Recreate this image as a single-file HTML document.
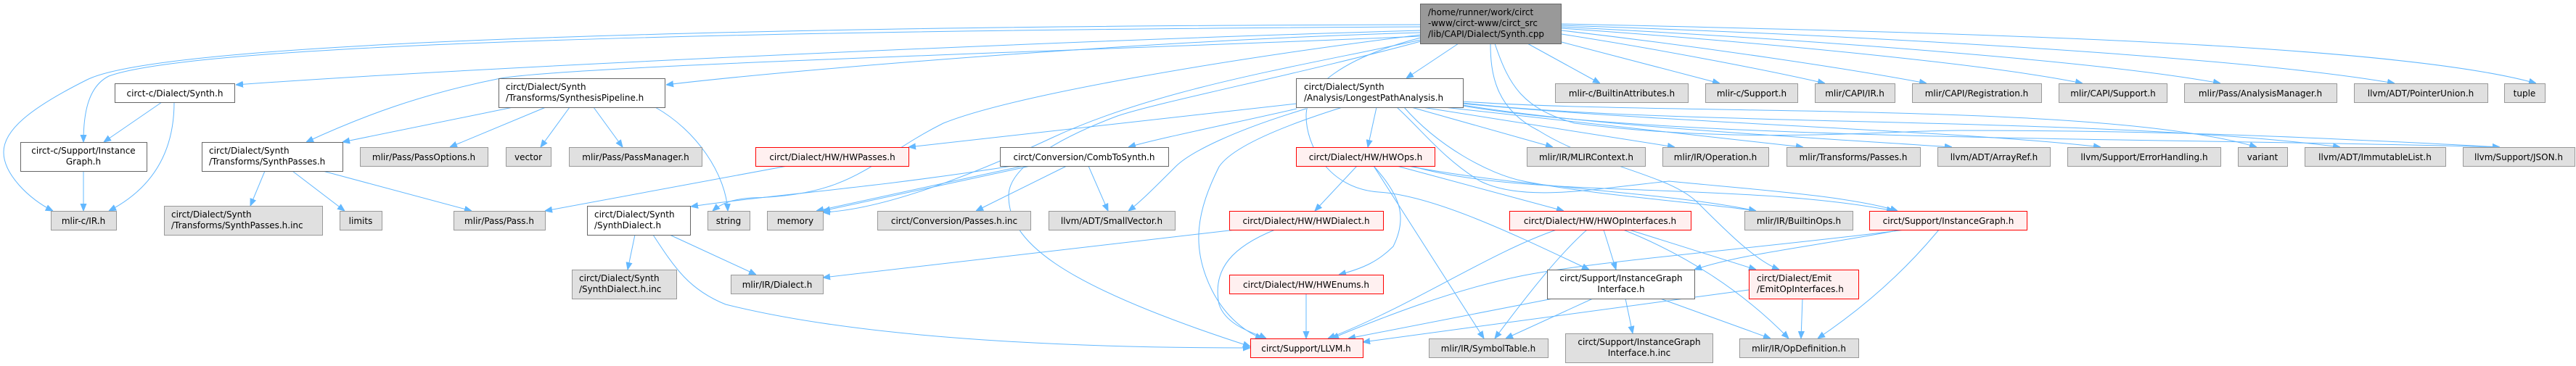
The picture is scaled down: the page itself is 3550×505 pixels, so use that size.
<!DOCTYPE html>
<html><head><meta charset="utf-8"><style>
html,body{margin:0;padding:0;background:#fff;}
svg{display:block;}
text{font-family:"DejaVu Sans","Liberation Sans",sans-serif;font-size:12px;fill:#000;}
.e{fill:none;stroke:#63b8ff;stroke-width:1;}
.g{fill:#e0e0e0;stroke:#999;}
.w{fill:#fff;stroke:#666;}
.r{fill:#fff0f0;stroke:#f00;}
</style></head><body>
<svg width="3550" height="505" viewBox="0 0 3550 505" xmlns="http://www.w3.org/2000/svg">
<defs><marker id="a" viewBox="0 0 10 10" refX="10" refY="5" markerWidth="10" markerHeight="10" markerUnits="userSpaceOnUse" orient="auto"><path d="M0,1 L10,5 L0,9 z" fill="#63b8ff" stroke="#63b8ff"/></marker></defs>
<g marker-end="url(#a)">
<!-- root edges -->
<path class="e" d="M2010,60 L1938,108"/>
<path class="e" d="M2105,60 L2205,115"/>
<path class="e" d="M2152,58 L2370,115"/>
<path class="e" d="M2152,47 C2300,70 2450,100 2515,115"/>
<path class="e" d="M2152,42 C2350,65 2550,95 2655,115"/>
<path class="e" d="M2152,39 C2450,60 2750,90 2870,115"/>
<path class="e" d="M2152,37 C2500,55 2900,85 3060,115"/>
<path class="e" d="M2152,35 C2600,50 3100,80 3300,115"/>
<path class="e" d="M2152,33 C2700,45 3300,60 3495,115"/>
<path class="e" d="M1958,45 C1600,55 1100,95 918,117"/>
<path class="e" d="M1958,42 C1500,55 700,90 325,117"/>
<path class="e" d="M1958,37 C1400,40 300,50 150,105 C120,120 115,160 115,196"/>
<path class="e" d="M1958,34 C1400,35 250,45 120,110 C40,150 5,180 5,210 C5,240 40,275 73,291"/>
<path class="e" d="M1958,50 C1500,70 800,90 690,108 C580,130 500,160 422,196"/>
<path class="e" d="M1958,48 C1700,80 1400,130 1300,170 C1200,220 1180,270 1035,273 C1010,275 995,280 982,291"/>
<path class="e" d="M1958,55 C1800,90 1600,120 1450,190 C1300,260 1200,290 1134,293"/>
<path class="e" d="M1958,57 C1800,100 1600,140 1540,160 C1460,190 1390,230 1390,270 C1390,330 1450,390 1723,478"/>
<path class="e" d="M1958,52 C1850,80 1800,120 1800,160 C1800,200 1830,260 1900,265 C1980,270 2100,330 2190,372"/>
<path class="e" d="M2054,60 C2054,100 2060,150 2120,180 C2200,230 2300,240 2340,280 C2380,320 2420,360 2452,372"/>
<path class="e" d="M2060,60 C2080,120 2100,150 2170,170 C2400,200 2600,180 2700,180 C3000,180 3200,190 3445,203"/>
<!-- LPA edges -->
<path class="e" d="M1787,143 L1252,203"/>
<path class="e" d="M1787,150 C1700,170 1600,190 1555,203"/>
<path class="e" d="M1800,150 C1700,180 1640,210 1620,230 C1590,260 1570,280 1555,291"/>
<path class="e" d="M1850,148 C1780,170 1700,200 1680,230 C1650,290 1640,340 1670,400 C1690,440 1720,460 1740,467"/>
<path class="e" d="M1897,148 L1885,203"/>
<path class="e" d="M1945,148 L2140,203"/>
<path class="e" d="M1960,148 L2308,203"/>
<path class="e" d="M1990,148 L2485,203"/>
<path class="e" d="M2016,145 C2200,175 2500,190 2690,203"/>
<path class="e" d="M2016,143 C2300,170 2700,180 2895,203"/>
<path class="e" d="M2016,140 C2300,160 2900,140 3110,203"/>
<path class="e" d="M2016,142 C2300,175 2900,160 3225,203"/>
<path class="e" d="M2016,146 C2300,195 3000,190 3445,203"/>
<path class="e" d="M1925,148 C1960,180 1990,220 2040,250 C2100,280 2200,260 2300,250 C2400,260 2550,270 2615,291"/>
<path class="e" d="M1935,148 C1980,200 2050,240 2100,250 C2200,270 2350,280 2420,291"/>
<!-- CombToSynth -->
<path class="e" d="M1395,229 C1200,260 1050,270 952,285"/>
<path class="e" d="M1420,229 L1134,291"/>
<path class="e" d="M1410,229 L1125,291"/>
<path class="e" d="M1470,229 L1345,291"/>
<path class="e" d="M1500,229 L1527,291"/>
<!-- HWPasses -->
<path class="e" d="M1085,229 L751,291"/>
<!-- SynthesisPipeline -->
<path class="e" d="M707,148 L472,196"/>
<path class="e" d="M752,148 L620,203"/>
<path class="e" d="M785,148 L745,203"/>
<path class="e" d="M818,148 L858,203"/>
<path class="e" d="M903,148 C960,180 1000,240 1003,291"/>
<!-- SynthPasses -->
<path class="e" d="M365,236 L345,284"/>
<path class="e" d="M403,236 L475,291"/>
<path class="e" d="M445,236 L650,291"/>
<!-- circt-c -->
<path class="e" d="M223,141 L143,196"/>
<path class="e" d="M240,141 C240,210 210,260 150,291"/>
<path class="e" d="M115,236 L115,291"/>
<!-- SynthDialect -->
<path class="e" d="M875,324 L865,372"/>
<path class="e" d="M923,324 L1042,379"/>
<path class="e" d="M900,324 C930,370 950,400 1000,420 C1200,470 1500,480 1723,480"/>
<!-- HWOps -->
<path class="e" d="M1870,229 L1812,291"/>
<path class="e" d="M1893,229 C1930,270 1940,300 1920,340 C1900,360 1880,370 1845,379"/>
<path class="e" d="M1893,229 L2045,467"/>
<path class="e" d="M1925,229 L2155,291"/>
<path class="e" d="M1940,229 C2100,260 2300,265 2420,291"/>
<path class="e" d="M1945,229 C2100,275 2400,250 2610,291"/>
<!-- HWDialect -->
<path class="e" d="M1703,317 L1134,383"/>
<path class="e" d="M1757,317 C1700,340 1670,370 1680,420 C1690,450 1730,460 1745,467"/>
<!-- HWEnums -->
<path class="e" d="M1800,405 L1800,467"/>
<!-- HWOpInterfaces -->
<path class="e" d="M2145,317 C2050,350 1950,420 1830,467"/>
<path class="e" d="M2187,317 C2150,350 2110,400 2060,467"/>
<path class="e" d="M2210,317 L2227,372"/>
<path class="e" d="M2245,317 L2420,372"/>
<path class="e" d="M2237,317 C2320,350 2400,400 2465,467"/>
<!-- InstanceGraph red -->
<path class="e" d="M2620,317 C2500,340 2400,350 2335,372"/>
<path class="e" d="M2625,317 C2450,340 2200,360 2100,380 C2000,400 1900,440 1835,467"/>
<path class="e" d="M2672,317 C2620,380 2560,430 2505,467"/>
<!-- InstanceGraphInterface -->
<path class="e" d="M2140,412 L1858,467"/>
<path class="e" d="M2195,412 L2075,467"/>
<path class="e" d="M2240,412 L2250,460"/>
<path class="e" d="M2288,412 L2440,467"/>
<!-- EmitOpInterfaces -->
<path class="e" d="M2410,400 L1878,472"/>
<path class="e" d="M2484,412 L2482,467"/>
</g>
<!-- nodes -->
<rect x="1957.5" y="5.5" width="194" height="55" fill="#999" stroke="#666"/>
<text x="1968" y="21">/home/runner/work/circt</text>
<text x="1968" y="36">-www/circt-www/circt_src</text>
<text x="1968" y="51">/lib/CAPI/Dialect/Synth.cpp</text>

<rect class="w" x="158.5" y="115.5" width="165" height="26"/><text x="241" y="133" text-anchor="middle">circt-c/Dialect/Synth.h</text>
<rect class="w" x="28.5" y="196.5" width="174" height="40"/><text x="115" y="212" text-anchor="middle">circt-c/Support/Instance</text><text x="115" y="227" text-anchor="middle">Graph.h</text>
<rect class="g" x="70.5" y="291.5" width="90" height="26"/><text x="115" y="309" text-anchor="middle">mlir-c/IR.h</text>
<rect class="w" x="278.5" y="196.5" width="194" height="40"/><text x="288" y="212">circt/Dialect/Synth</text><text x="288" y="227">/Transforms/SynthPasses.h</text>
<rect class="g" x="226.5" y="284.5" width="218" height="40"/><text x="236" y="300">circt/Dialect/Synth</text><text x="236" y="315">/Transforms/SynthPasses.h.inc</text>
<rect class="g" x="468.5" y="291.5" width="58" height="26"/><text x="497" y="309" text-anchor="middle">limits</text>
<rect class="g" x="625.5" y="291.5" width="126" height="26"/><text x="688" y="309" text-anchor="middle">mlir/Pass/Pass.h</text>
<rect class="w" x="687.5" y="108.5" width="229" height="40"/><text x="697" y="124">circt/Dialect/Synth</text><text x="697" y="139">/Transforms/SynthesisPipeline.h</text>
<rect class="g" x="496.5" y="203.5" width="176" height="26"/><text x="584" y="221" text-anchor="middle">mlir/Pass/PassOptions.h</text>
<rect class="g" x="697.5" y="203.5" width="62" height="26"/><text x="728" y="221" text-anchor="middle">vector</text>
<rect class="g" x="784.5" y="203.5" width="183" height="26"/><text x="876" y="221" text-anchor="middle">mlir/Pass/PassManager.h</text>
<rect class="w" x="809.5" y="284.5" width="142" height="40"/><text x="819" y="300">circt/Dialect/Synth</text><text x="819" y="315">/SynthDialect.h</text>
<rect class="g" x="788.5" y="372.5" width="144" height="40"/><text x="798" y="388">circt/Dialect/Synth</text><text x="798" y="403">/SynthDialect.h.inc</text>
<rect class="r" x="1041.5" y="203.5" width="211" height="26"/><text x="1147" y="221" text-anchor="middle">circt/Dialect/HW/HWPasses.h</text>
<rect class="g" x="975.5" y="291.5" width="58" height="26"/><text x="1004" y="309" text-anchor="middle">string</text>
<rect class="g" x="1057.5" y="291.5" width="77" height="26"/><text x="1096" y="309" text-anchor="middle">memory</text>
<rect class="w" x="1378.5" y="203.5" width="232" height="26"/><text x="1494" y="221" text-anchor="middle">circt/Conversion/CombToSynth.h</text>
<rect class="g" x="1209.5" y="291.5" width="211" height="26"/><text x="1315" y="309" text-anchor="middle">circt/Conversion/Passes.h.inc</text>
<rect class="g" x="1445.5" y="291.5" width="174" height="26"/><text x="1532" y="309" text-anchor="middle">llvm/ADT/SmallVector.h</text>
<rect class="g" x="1007.5" y="379.5" width="127" height="26"/><text x="1071" y="397" text-anchor="middle">mlir/IR/Dialect.h</text>
<rect class="r" x="1694.5" y="291.5" width="212" height="26"/><text x="1800" y="309" text-anchor="middle">circt/Dialect/HW/HWDialect.h</text>
<rect class="r" x="1694.5" y="379.5" width="212" height="26"/><text x="1800" y="397" text-anchor="middle">circt/Dialect/HW/HWEnums.h</text>
<rect class="r" x="1723.5" y="467.5" width="155" height="26"/><text x="1800" y="485" text-anchor="middle">circt/Support/LLVM.h</text>
<rect class="r" x="1786.5" y="203.5" width="191" height="26"/><text x="1882" y="221" text-anchor="middle">circt/Dialect/HW/HWOps.h</text>
<rect class="w" x="1786.5" y="108.5" width="230" height="40"/><text x="1797" y="124">circt/Dialect/Synth</text><text x="1797" y="139">/Analysis/LongestPathAnalysis.h</text>

<rect class="g" x="2143.5" y="115.5" width="183" height="26"/><text x="2235" y="133" text-anchor="middle">mlir-c/BuiltinAttributes.h</text>
<rect class="g" x="2350.5" y="115.5" width="127" height="26"/><text x="2414" y="133" text-anchor="middle">mlir-c/Support.h</text>
<rect class="g" x="2501.5" y="115.5" width="110" height="26"/><text x="2556" y="133" text-anchor="middle">mlir/CAPI/IR.h</text>
<rect class="g" x="2635.5" y="115.5" width="178" height="26"/><text x="2724" y="133" text-anchor="middle">mlir/CAPI/Registration.h</text>
<rect class="g" x="2837.5" y="115.5" width="149" height="26"/><text x="2912" y="133" text-anchor="middle">mlir/CAPI/Support.h</text>
<rect class="g" x="3010.5" y="115.5" width="210" height="26"/><text x="3115" y="133" text-anchor="middle">mlir/Pass/AnalysisManager.h</text>
<rect class="g" x="3244.5" y="115.5" width="184" height="26"/><text x="3336" y="133" text-anchor="middle">llvm/ADT/PointerUnion.h</text>
<rect class="g" x="3451.5" y="115.5" width="56" height="26"/><text x="3479" y="133" text-anchor="middle">tuple</text>

<rect class="g" x="2104.5" y="203.5" width="163" height="26"/><text x="2186" y="221" text-anchor="middle">mlir/IR/MLIRContext.h</text>
<rect class="g" x="2291.5" y="203.5" width="146" height="26"/><text x="2364" y="221" text-anchor="middle">mlir/IR/Operation.h</text>
<rect class="g" x="2462.5" y="203.5" width="184" height="26"/><text x="2554" y="221" text-anchor="middle">mlir/Transforms/Passes.h</text>
<rect class="g" x="2670.5" y="203.5" width="155" height="26"/><text x="2748" y="221" text-anchor="middle">llvm/ADT/ArrayRef.h</text>
<rect class="g" x="2849.5" y="203.5" width="211" height="26"/><text x="2955" y="221" text-anchor="middle">llvm/Support/ErrorHandling.h</text>
<rect class="g" x="3084.5" y="203.5" width="68" height="26"/><text x="3118" y="221" text-anchor="middle">variant</text>
<rect class="g" x="3176.5" y="203.5" width="194" height="26"/><text x="3273" y="221" text-anchor="middle">llvm/ADT/ImmutableList.h</text>
<rect class="g" x="3394.5" y="203.5" width="154" height="26"/><text x="3471" y="221" text-anchor="middle">llvm/Support/JSON.h</text>

<rect class="r" x="2080.5" y="291.5" width="250" height="26"/><text x="2205" y="309" text-anchor="middle">circt/Dialect/HW/HWOpInterfaces.h</text>
<rect class="g" x="2404.5" y="291.5" width="149" height="26"/><text x="2479" y="309" text-anchor="middle">mlir/IR/BuiltinOps.h</text>
<rect class="r" x="2576.5" y="291.5" width="217" height="26"/><text x="2685" y="309" text-anchor="middle">circt/Support/InstanceGraph.h</text>
<rect class="w" x="2132.5" y="372.5" width="203" height="40"/><text x="2234" y="388" text-anchor="middle">circt/Support/InstanceGraph</text><text x="2234" y="403" text-anchor="middle">Interface.h</text>
<rect class="r" x="2410.5" y="372.5" width="151" height="40"/><text x="2421" y="388">circt/Dialect/Emit</text><text x="2421" y="403">/EmitOpInterfaces.h</text>
<rect class="g" x="1969.5" y="467.5" width="164" height="26"/><text x="2051" y="485" text-anchor="middle">mlir/IR/SymbolTable.h</text>
<rect class="g" x="2157.5" y="460.5" width="203" height="40"/><text x="2259" y="476" text-anchor="middle">circt/Support/InstanceGraph</text><text x="2259" y="491" text-anchor="middle">Interface.h.inc</text>
<rect class="g" x="2397.5" y="467.5" width="164" height="26"/><text x="2479" y="485" text-anchor="middle">mlir/IR/OpDefinition.h</text>
</svg>
</body></html>
